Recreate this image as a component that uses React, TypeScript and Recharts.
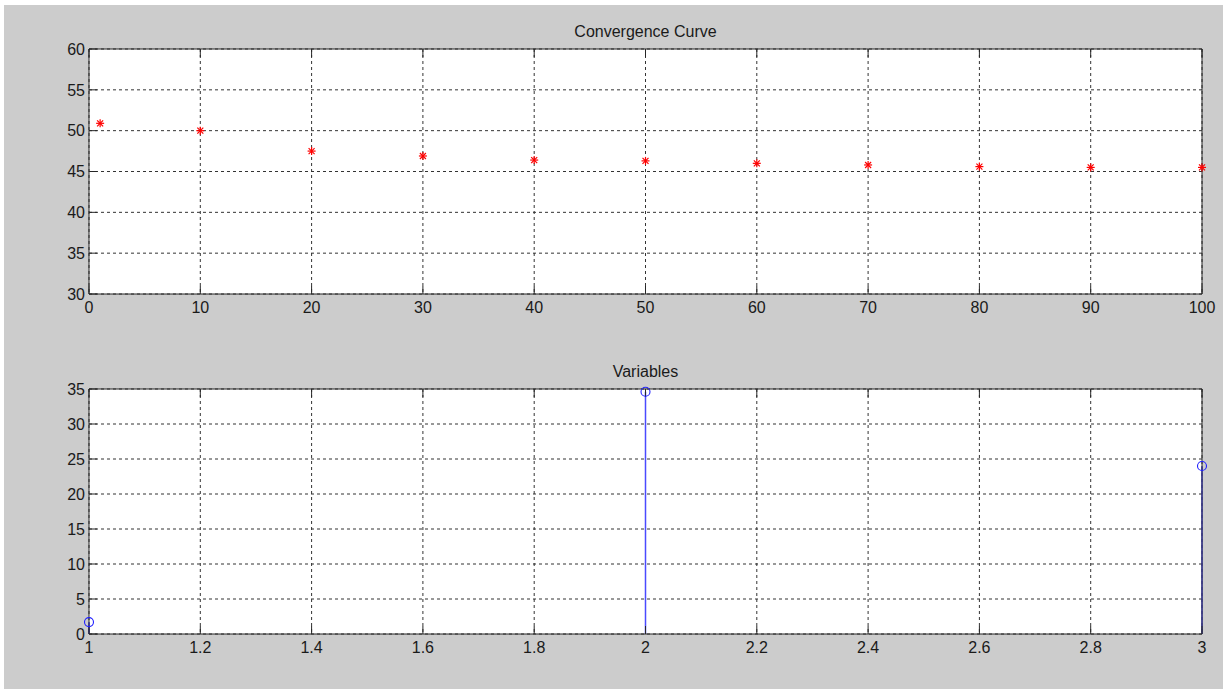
import { ComposedChart, Scatter, ErrorBar, XAxis, YAxis, CartesianGrid } from 'recharts';

// convergence curve, sampled every 10 iterations
const iterations = [1, 10, 20, 30, 40, 50, 60, 70, 80, 90, 100];
const bestCost = [50.9, 50.0, 47.5, 46.9, 46.4, 46.3, 46.0, 45.8, 45.6, 45.5, 45.5];

// final variables
const varIndex = [1, 2, 3];
const varValue = [1.7, 34.6, 24.0];

const convTicksX = [0, 10, 20, 30, 40, 50, 60, 70, 80, 90, 100];
const convTicksY = [30, 35, 40, 45, 50, 55, 60];
const varTicksX = [1, 1.2, 1.4, 1.6, 1.8, 2, 2.2, 2.4, 2.6, 2.8, 3];
const varTicksY = [0, 5, 10, 15, 20, 25, 30, 35];

const convData = iterations.map((it, i) => ({ x: it, y: bestCost[i] }));
// stem = asymmetric error bar reaching down to zero
const varData = varIndex.map((v, i) => ({ x: v, y: varValue[i], stem: [varValue[i], 0] }));

const W = 1223;
const FONT = '"Liberation Sans", Arial, sans-serif';
const tickStyle = { fill: '#1a1a1a', fontSize: 16, fontFamily: FONT };
const axisLine = { stroke: '#262626', strokeWidth: 1 };
const tickLine = { stroke: '#262626', strokeWidth: 1 };
const blank = () => '';
const chartMargin = { top: 48, right: 20, left: 88 };
const GRID_DASH = '3 3';

const Asterisk = (props: any) => {
  const { cx, cy } = props;
  const r = 4;
  const d = 3;
  return (
    <g stroke="#ff0000" strokeWidth={1.2}>
      <line x1={cx - r} y1={cy} x2={cx + r} y2={cy} />
      <line x1={cx} y1={cy - r} x2={cx} y2={cy + r} />
      <line x1={cx - d} y1={cy - d} x2={cx + d} y2={cy + d} />
      <line x1={cx - d} y1={cy + d} x2={cx + d} y2={cy - d} />
    </g>
  );
};

const Circle = (props: any) => {
  const { cx, cy } = props;
  return <circle cx={cx} cy={cy} r={4.5} fill="none" stroke="#2020ff" strokeWidth={1.1} />;
};

const Title = ({ text, top }: { text: string; top: number }) => (
  <div
    style={{
      position: 'absolute',
      left: 89,
      width: 1113,
      top,
      textAlign: 'center',
      fontFamily: FONT,
      fontSize: 16,
      color: '#1a1a1a',
    }}
  >
    {text}
  </div>
);

export default function App() {
  return (
    <div style={{ position: 'absolute', left: 0, top: 0, width: W, height: 689, background: '#ffffff' }}>
      <div style={{ position: 'absolute', left: 4, top: 5, width: W - 4, height: 684, background: '#cccccc' }} />
      <Title text="Convergence Curve" top={23} />
      <Title text="Variables" top={363} />
      <div style={{ position: 'absolute', left: 0, top: 0 }}>
        <ComposedChart width={W} height={340} data={convData} margin={{ ...chartMargin, bottom: 45 }}>
          <CartesianGrid stroke="#333" strokeDasharray={GRID_DASH} fill="#ffffff" />
          <XAxis
            type="number" dataKey="x" domain={[0, 100]} ticks={convTicksX} interval={0}
            height={1} tickSize={-8} tickMargin={16} tick={tickStyle}
            axisLine={axisLine} tickLine={tickLine}
          />
          <XAxis
            xAxisId="top" orientation="top" type="number" dataKey="x" domain={[0, 100]} ticks={convTicksX}
            interval={0} height={1} tickSize={-8} tickFormatter={blank}
            axisLine={axisLine} tickLine={tickLine}
          />
          <YAxis
            type="number" domain={[30, 60]} ticks={convTicksY} interval={0}
            width={1} tickSize={-8} tickMargin={12} tick={tickStyle}
            axisLine={axisLine} tickLine={tickLine}
          />
          <YAxis
            yAxisId="right" orientation="right" type="number" domain={[30, 60]} ticks={convTicksY}
            interval={0} width={1} tickSize={-8} tickFormatter={blank}
            axisLine={axisLine} tickLine={tickLine}
          />
          <Scatter dataKey="y" shape={<Asterisk />} isAnimationActive={false} />
        </ComposedChart>
      </div>
      <div style={{ position: 'absolute', left: 0, top: 340 }}>
        <ComposedChart width={W} height={349} data={varData} margin={{ ...chartMargin, bottom: 54 }}>
          <CartesianGrid stroke="#333" strokeDasharray={GRID_DASH} fill="#ffffff" />
          <XAxis
            type="number" dataKey="x" domain={[1, 3]} ticks={varTicksX} interval={0}
            height={1} tickSize={-8} tickMargin={16} tick={tickStyle}
            axisLine={axisLine} tickLine={tickLine}
          />
          <XAxis
            xAxisId="top" orientation="top" type="number" dataKey="x" domain={[1, 3]} ticks={varTicksX}
            interval={0} height={1} tickSize={-8} tickFormatter={blank}
            axisLine={axisLine} tickLine={tickLine}
          />
          <YAxis
            type="number" domain={[0, 35]} ticks={varTicksY} interval={0}
            width={1} tickSize={-8} tickMargin={12} tick={tickStyle}
            axisLine={axisLine} tickLine={tickLine}
          />
          <YAxis
            yAxisId="right" orientation="right" type="number" domain={[0, 35]} ticks={varTicksY}
            interval={0} width={1} tickSize={-8} tickFormatter={blank}
            axisLine={axisLine} tickLine={tickLine}
          />
          <Scatter dataKey="y" shape={<Circle />} isAnimationActive={false}>
            <ErrorBar dataKey="stem" direction="y" width={0} stroke="#4a4aff" strokeWidth={1.5} isAnimationActive={false} />
          </Scatter>
        </ComposedChart>
      </div>
    </div>
  );
}
